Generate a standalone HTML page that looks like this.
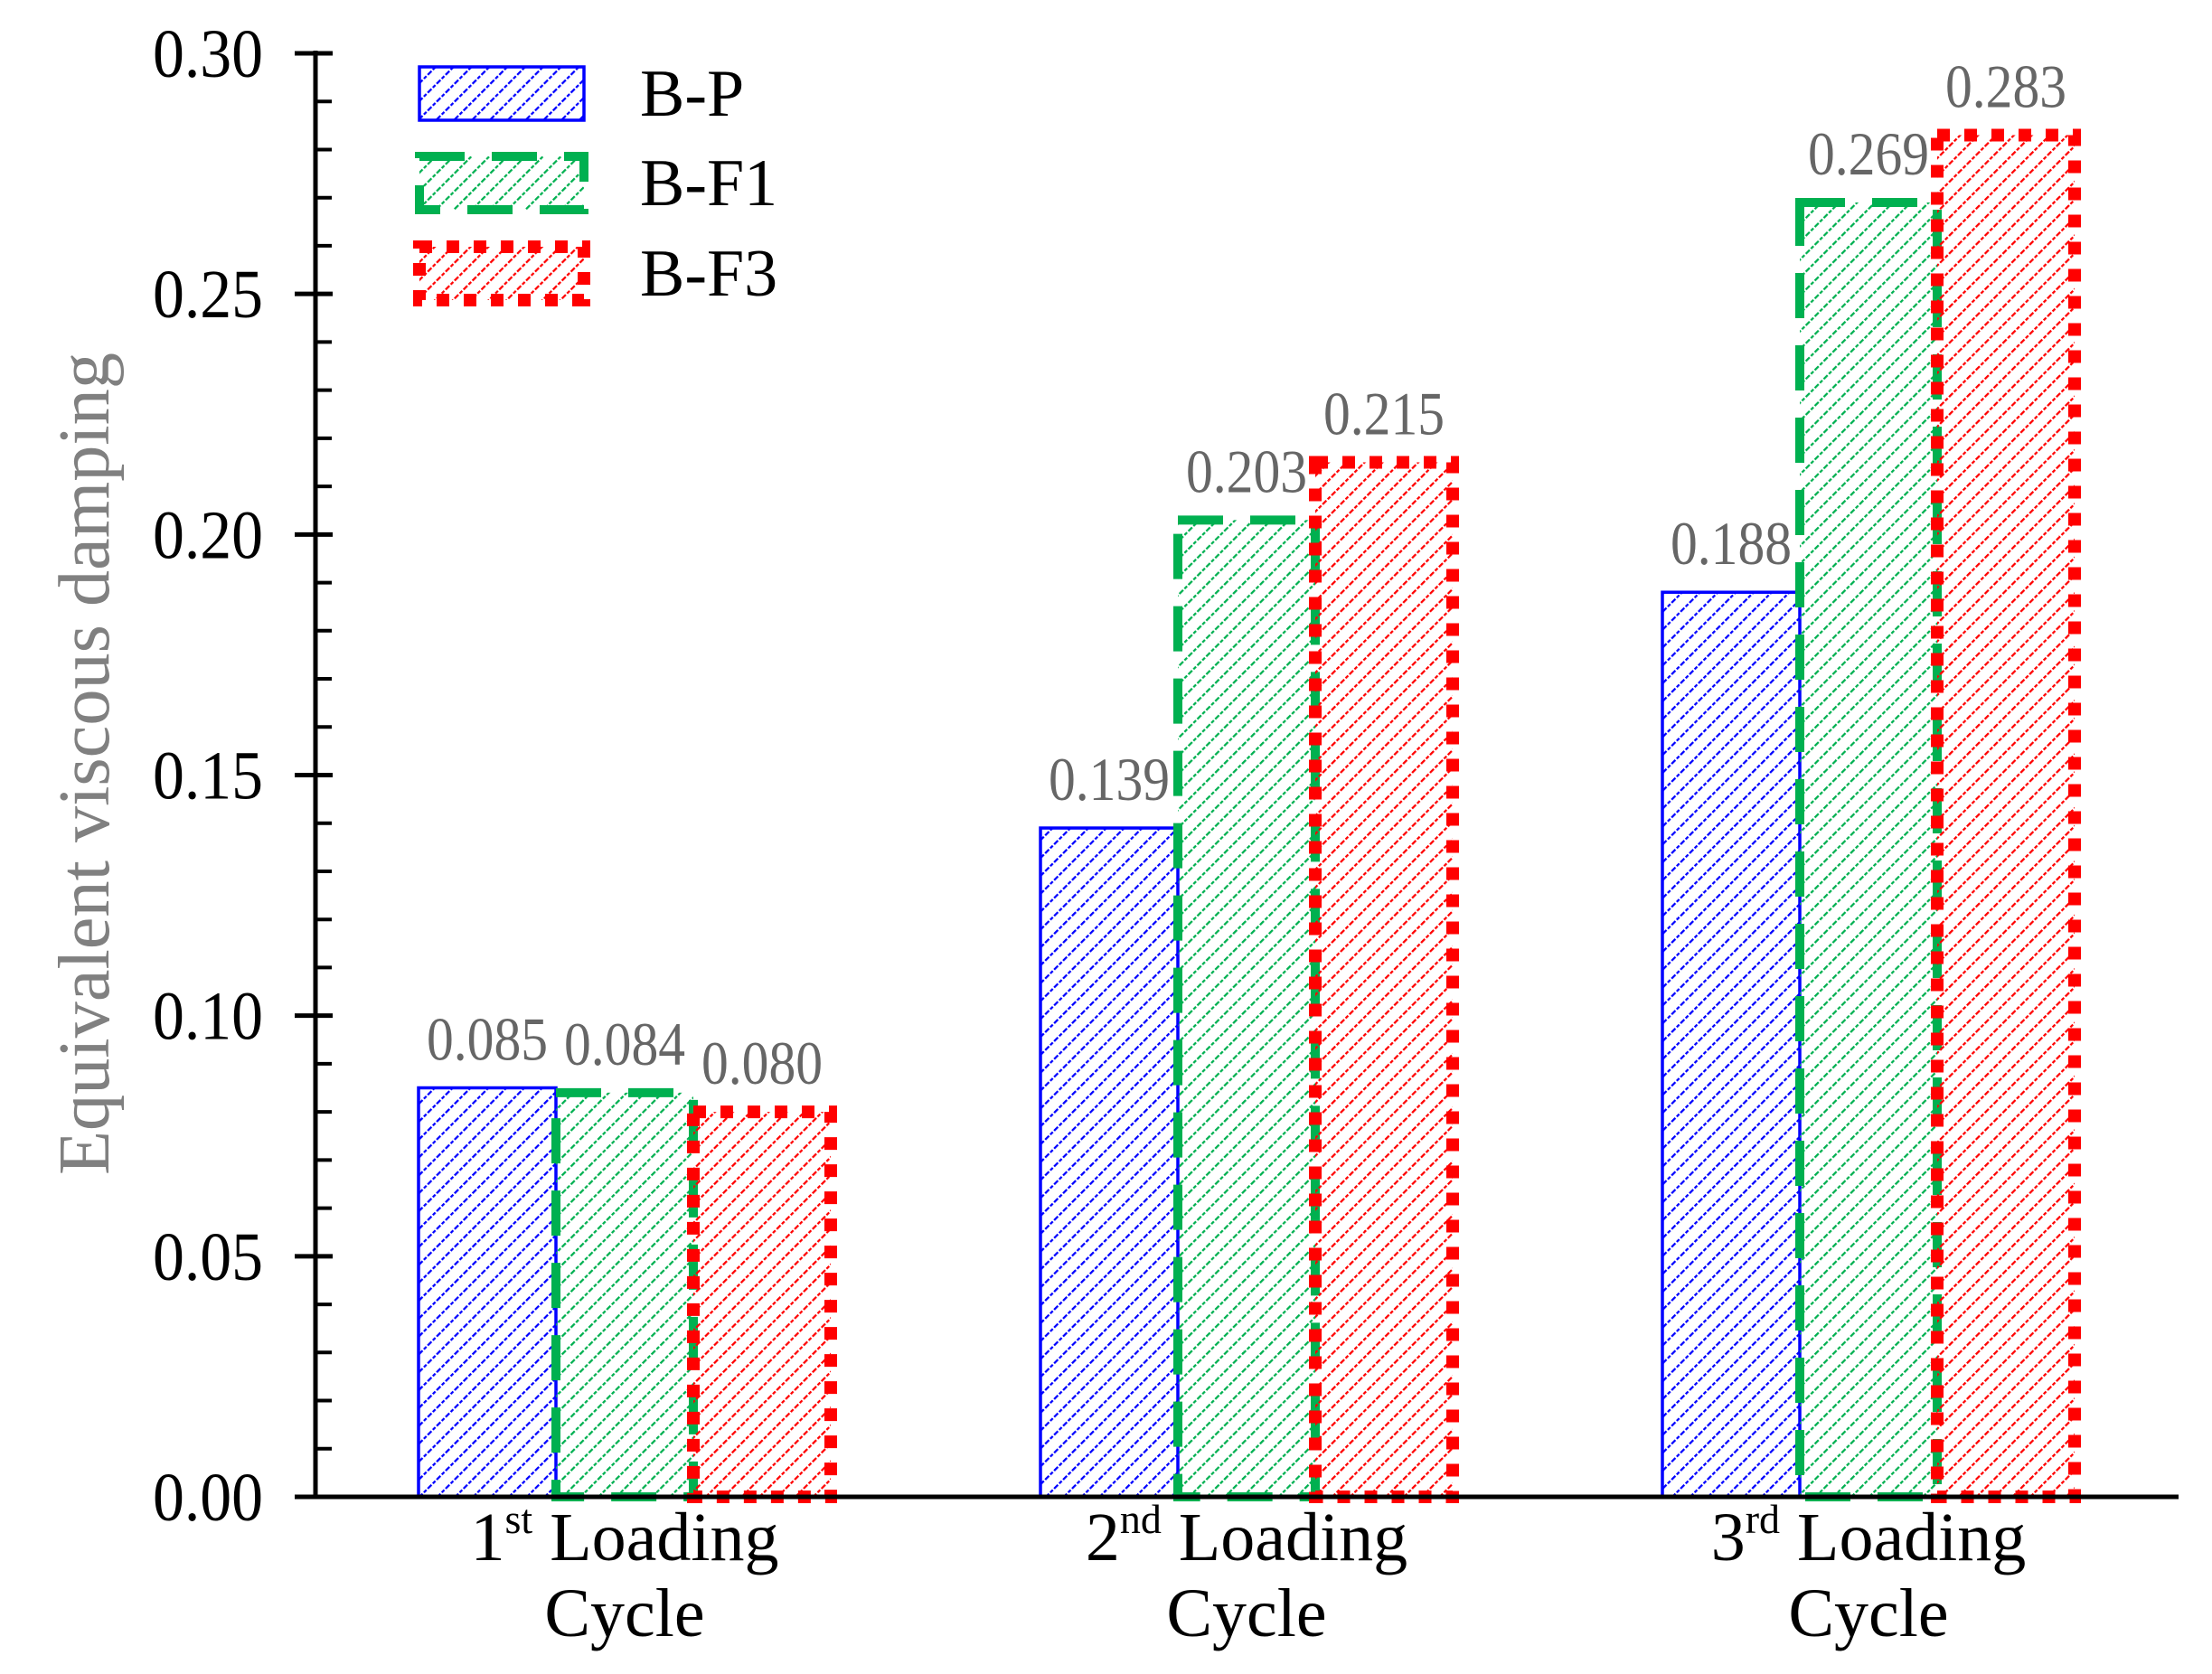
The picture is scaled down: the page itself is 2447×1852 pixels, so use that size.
<!DOCTYPE html>
<html><head><meta charset="utf-8"><style>
html,body{margin:0;padding:0;background:#fff;}
svg{display:block;font-family:"Liberation Serif","Times New Roman",serif;}
</style></head><body>
<svg id="chart" width="2447" height="1852" viewBox="0 0 2447 1852" xmlns="http://www.w3.org/2000/svg">
<defs>
<pattern id="hatch-blue" patternUnits="userSpaceOnUse" width="14" height="14" patternTransform="rotate(45)"><line x1="0" y1="0" x2="0" y2="14" stroke="#0000ff" stroke-width="4.5" stroke-dasharray="4 2"/></pattern>
<pattern id="hatch-green" patternUnits="userSpaceOnUse" width="14" height="14" patternTransform="rotate(45)"><line x1="0" y1="0" x2="0" y2="14" stroke="#00b050" stroke-width="4.5" stroke-dasharray="4 2"/></pattern>
<pattern id="hatch-red" patternUnits="userSpaceOnUse" width="14" height="14" patternTransform="rotate(45)"><line x1="0" y1="0" x2="0" y2="14" stroke="#ff0000" stroke-width="4.5" stroke-dasharray="4 2"/></pattern>
</defs>
<g id="plot"></g>
</svg>
<script>
const categories = [["1","st"," Loading"],["2","nd"," Loading"],["3","rd"," Loading"]];
const seriesNames = ["B-P","B-F1","B-F3"];
const bpValues = [0.085,0.139,0.188];
const bf1Values = [0.084,0.203,0.269];
const bf3Values = [0.080,0.215,0.283];
const valueLabelsBP = ["0.085","0.139","0.188"];
const valueLabelsF1 = ["0.084","0.203","0.269"];
const valueLabelsF3 = ["0.080","0.215","0.283"];
const yTicks = ["0.00","0.05","0.10","0.15","0.20","0.25","0.30"];

const NS="http://www.w3.org/2000/svg";
const g=document.getElementById('plot');
const X0=349, Y0=1656, YTOP=59, XEND=2410;
const yScale=v=>Y0-(v/0.30)*(Y0-YTOP);
const groupCenter=i=>691+i*688;
const barW=152;
function mk(tag,attrs,parent){const e=document.createElementNS(NS,tag);for(const k in attrs)e.setAttribute(k,attrs[k]);(parent||g).appendChild(e);return e;}

const styles=[
 {fill:"url(#hatch-blue)",stroke:"#0000ff",sw:3.5,dash:""},
 {fill:"url(#hatch-green)",stroke:"#00b050",sw:10,dash:"50 30"},
 {fill:"url(#hatch-red)",stroke:"#ff0000",sw:14,dash:"14 16"}
];
const allVals=[bpValues,bf1Values,bf3Values];
const allLabels=[valueLabelsBP,valueLabelsF1,valueLabelsF3];

categories.forEach((c,i)=>{
 for(let s=0;s<3;s++){
  const v=allVals[s][i];
  const x=groupCenter(i)+(s-1.5)*barW;
  const y=yScale(v);
  const r=mk('rect',{x:x,y:y,width:barW,height:Y0-y,fill:styles[s].fill,stroke:styles[s].stroke,'stroke-width':styles[s].sw,'stroke-dasharray':styles[s].dash});
  
  
  const t=mk('text',{x:x+barW/2,y:y-31,'text-anchor':'middle','font-size':68,fill:'#666666',textLength:134,lengthAdjust:'spacingAndGlyphs'});
  t.textContent=allLabels[s][i];
  
  
 }
});

const ya=mk('line',{x1:X0,y1:YTOP-3,x2:X0,y2:Y0,stroke:'#000','stroke-width':5});


const xa=mk('line',{x1:326,y1:Y0,x2:XEND,y2:Y0,stroke:'#000','stroke-width':5});


for(let k=0;k<=30;k++){
 const y=yScale(k/100);
 if(k%5===0){
  const tl=mk('line',{x1:326,y1:y,x2:368,y2:y,stroke:'#000','stroke-width':5});
  
  
 } else {
  const tl=mk('line',{x1:X0,y1:y,x2:367,y2:y,stroke:'#000','stroke-width':4});
  
  
 }
}
yTicks.forEach((lab,i)=>{
 const t=mk('text',{x:291,y:yScale(i*0.05)+26,'text-anchor':'end','font-size':76,fill:'#000',textLength:122,lengthAdjust:'spacingAndGlyphs'});
 t.textContent=lab;
 
 
});

const yt=mk('text',{x:0,y:0,'text-anchor':'middle','font-size':80,fill:'#808080',transform:'translate(120,845) rotate(-90)',textLength:910,lengthAdjust:'spacingAndGlyphs'});
yt.textContent='Equivalent  viscous damping';



categories.forEach((c,i)=>{
 const cx=groupCenter(i);
 const t=mk('text',{x:cx,y:1726,'text-anchor':'middle','font-size':76,fill:'#000'});
 const a=mk('tspan',{},t);a.textContent=c[0];
 const b=mk('tspan',{'font-size':46,dy:-30},t);b.textContent=c[1];
 const d=mk('tspan',{dy:30},t);d.textContent=c[2];
 
 
 const t2=mk('text',{x:cx,y:1810,'text-anchor':'middle','font-size':76,fill:'#000'});
 t2.textContent='Cycle';
 
 
});

const legY=[74,173,273];
const legend=mk('g',{});


seriesNames.forEach((n,s)=>{
 const r=mk('rect',{x:464,y:legY[s],width:182,height:59,fill:styles[s].fill,stroke:styles[s].stroke,'stroke-width':styles[s].sw,'stroke-dasharray':styles[s].dash},legend);
 
 
 const t=mk('text',{x:708,y:legY[s]+54,'font-size':74,fill:'#000'},legend);
 t.textContent=n;
 
 
});
</script>
</body></html>
